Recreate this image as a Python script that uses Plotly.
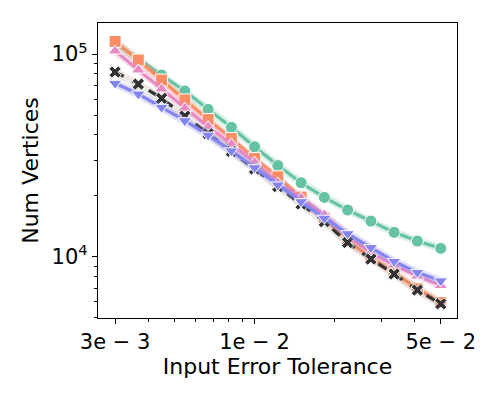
import plotly.graph_objects as go

# input error tolerance (log spaced)
tolerance = [0.003, 0.003667, 0.004484, 0.005481, 0.006701, 0.008192, 0.010015,
             0.012243, 0.014967, 0.018297, 0.022368, 0.027345, 0.03343, 0.040868, 0.05]

verts_circle = [113300, 94470, 78780, 65700, 53360, 43480, 34890, 28180,
                23180, 19630, 17000, 15000, 13200, 11950, 11000]
verts_square = [115300, 93400, 74400, 59300, 47500, 38300, 30500, 24800,
                19700, 15500, 12000, 9900, 8350, 6950, 5950]
verts_tri_up = [103500, 83400, 67200, 54000, 43800, 36000, 29300, 23100,
                19500, 16100, 12650, 10500, 9100, 8030, 7210]
verts_x = [81500, 71100, 60450, 49400, 40450, 33100, 27100, 22200,
           18200, 14900, 11750, 9740, 8215, 6850, 5860]
verts_tri_down = [71700, 63500, 54600, 46900, 39800, 33300, 27500, 22600,
                  18700, 15500, 13000, 11100, 9490, 8375, 7610]

series = [
    (verts_circle, "#66c2a5", "rgba(102,194,165,0.25)", "circle", "solid"),
    (verts_square, "#fc8d62", "rgba(252,141,98,0.25)", "square", "solid"),
    (verts_tri_up, "#e78ac3", "rgba(231,138,195,0.25)", "triangle-up", "solid"),
    (verts_x, "#333333", "rgba(160,140,120,0.2)", "x", "dash"),
    (verts_tri_down, "#8585f2", "rgba(133,133,242,0.25)", "triangle-down", "solid"),
]

fig = go.Figure()
for ys, col, halo, sym, dash in series:
    # soft band behind each line
    fig.add_trace(go.Scatter(x=tolerance, y=ys, mode="lines",
                             line=dict(color=halo, width=8),
                             hoverinfo="skip", showlegend=False))
    fig.add_trace(go.Scatter(x=tolerance, y=ys, mode="lines+markers",
                             line=dict(color=col, width=3.2, dash=dash),
                             marker=dict(symbol=sym, size=12 if sym != "x" else 11, color=col,
                                         line=dict(color="white", width=1)),
                             showlegend=False))

axis_common = dict(type="log", showline=True, mirror=True, linecolor="black", linewidth=1.3,
                   ticks="outside", ticklen=5, tickwidth=1.2, tickcolor="black",
                   showgrid=False, zeroline=False, automargin=False,
                   tickfont=dict(family="DejaVu Sans", size=21, color="black"))

fig.update_xaxes(**axis_common, range=[-2.587, -1.240],
                 tickvals=[0.003, 0.01, 0.05], ticktext=["3e − 3", "1e − 2", "5e − 2"],
                 minor=dict(ticks="outside", ticklen=3, tickwidth=1, tickcolor="black",
                            tickvals=[0.004, 0.005, 0.006, 0.007, 0.008, 0.009, 0.02, 0.03, 0.04]),
                 title=dict(text="Input Error Tolerance", standoff=4,
                            font=dict(family="DejaVu Sans", size=22, color="black")))
fig.update_yaxes(**axis_common, range=[3.698, 5.153],
                 tickvals=[1e4, 1e5], ticktext=["10<sup>4</sup>", "10<sup>5</sup>"],
                 minor=dict(ticks="outside", ticklen=3, tickwidth=1, tickcolor="black",
                            tickvals=[5000, 6000, 7000, 8000, 9000, 20000, 30000, 40000,
                                      50000, 60000, 70000, 80000, 90000]),
                 title=dict(text="Num Vertices", standoff=6,
                            font=dict(family="DejaVu Sans", size=22, color="black")))

# page body adds an 8px offset, so margins are trimmed to land the box where the reference has it
fig.update_layout(width=498, height=399, margin=dict(l=90, r=49, t=15, b=89),
                  plot_bgcolor="white", paper_bgcolor="white")

fig.write_html("out.html")
